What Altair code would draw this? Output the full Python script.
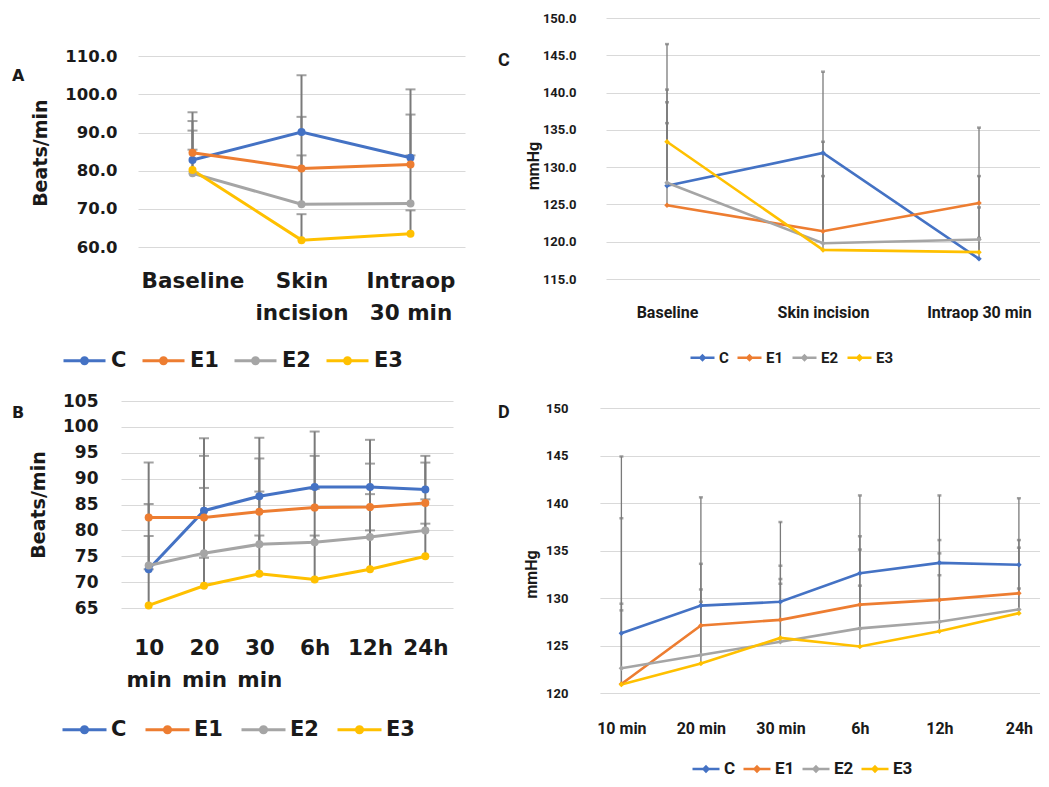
import altair as alt
import pandas as pd

SERIES = ["C", "E1", "E2", "E3"]
COLORS = ["#4472C4", "#ED7D31", "#A5A5A5", "#FFC000"]
TXT = "#1a1a1a"
GRID = "#D9D9D9"
ERR = "#7a7a7a"

# ---- Panel A : heart rate, intra-operative (Beats/min)
A_CATS = ["Baseline", "Skin incision", "Intraop 30 min"]
A_C = [82.8, 90.1, 83.4]
A_E1 = [84.7, 80.6, 81.6]
A_E2 = [79.3, 71.2, 71.4]
A_E3 = [80.2, 61.8, 63.5]
A_C_UP = [93.0, 105.0, 101.3]
A_E1_UP = [95.3, 94.1, 94.7]
A_E2_UP = [90.5, 84.0, 84.0]
A_E3_UP = [85.5, 68.6, 69.6]
A_TICKS = [60, 70, 80, 90, 100, 110]

# ---- Panel B : heart rate, post-operative (Beats/min)
B_CATS = ["10 min", "20 min", "30 min", "6h", "12h", "24h"]
B_C = [72.5, 83.8, 86.6, 88.4, 88.4, 87.9]
B_E1 = [82.5, 82.5, 83.6, 84.4, 84.5, 85.3]
B_E2 = [73.2, 75.6, 77.3, 77.7, 78.7, 80.0]
B_E3 = [65.5, 69.3, 71.6, 70.5, 72.5, 75.0]
B_C_UP = [85.1, 97.8, 97.9, 99.1, 97.5, 94.4]
B_E1_UP = [93.1, 94.4, 93.9, 94.4, 92.9, 93.1]
B_E2_UP = [78.9, 88.2, 87.5, 88.0, 87.0, 86.0]
B_E3_UP = [72.5, 74.7, 79.0, 79.0, 80.0, 81.3]
B_TICKS = [65, 70, 75, 80, 85, 90, 95, 100, 105]

# ---- Panel C : blood pressure, intra-operative (mmHg)
C_CATS = ["Baseline", "Skin incision", "Intraop 30 min"]
C_C = [127.5, 131.9, 117.7]
C_E1 = [124.9, 121.4, 125.2]
C_E2 = [127.9, 119.8, 120.3]
C_E3 = [133.4, 118.9, 118.6]
C_C_UP = [140.4, 142.8, 120.5]
C_E1_UP = [135.9, 128.8, 135.3]
C_E2_UP = [138.7, 133.4, 128.8]
C_E3_UP = [146.5, 131.9, 124.6]
C_TICKS = [115, 120, 125, 130, 135, 140, 145, 150]

# ---- Panel D : blood pressure, post-operative (mmHg)
D_CATS = ["10 min", "20 min", "30 min", "6h", "12h", "24h"]
D_C = [126.3, 129.2, 129.6, 132.6, 133.7, 133.5]
D_E1 = [120.95, 127.1, 127.7, 129.3, 129.8, 130.5]
D_E2 = [122.6, 124.0, 125.4, 126.8, 127.5, 128.8]
D_E3 = [120.9, 123.1, 125.8, 124.9, 126.5, 128.4]
D_C_UP = [144.9, 140.6, 138.0, 140.8, 140.8, 140.5]
D_E1_UP = [129.4, 133.6, 133.4, 136.5, 136.1, 136.1]
D_E2_UP = [138.4, 130.9, 132.0, 135.1, 134.7, 135.3]
D_E3_UP = [128.7, 129.6, 131.5, 131.3, 132.4, 131.0]
D_TICKS = [120, 125, 130, 135, 140, 145, 150]

BOLD_FONT = "DejaVu Sans"
NARROW_FONT = "Roboto"

LINE_DOT = ("M-1,0L1,0 M-0.14,0A0.14,0.14 0 1,0 0.14,0A0.14,0.14 0 1,0 -0.14,0 "
            "M-0.07,0A0.07,0.07 0 1,0 0.07,0A0.07,0.07 0 1,0 -0.07,0")
LINE_DIAMOND = "M-1,0L1,0 M0,-0.18L0.18,0L0,0.18L-0.18,0Z M0,-0.09L0.09,0L0,0.09L-0.09,0Z"


def frame(cats, vals, ups):
    rows = []
    for s, v, u in zip(SERIES, vals, ups):
        for i, (c, vi, ui) in enumerate(zip(cats, v, u)):
            rows.append({"x": c, "i": i, "series": s, "value": vi, "up": ui})
    return pd.DataFrame(rows)


def panel(df, cats, p):
    x = alt.X(
        "x:N", sort=cats, scale=p["xscale"],
        axis=alt.Axis(title=None, labelAngle=0, labelFont=p["font"], labelFontSize=p["f_xlab"],
                      labelFontWeight="bold", labelColor=TXT, labelPadding=p["xlab_pad"],
                      labelLineHeight=p["line_h"], labelExpr=p["xexpr"], labelOverlap=False,
                      labelLimit=0, grid=False, domain=False, ticks=False))
    y = alt.Y(
        "value:Q", scale=alt.Scale(domain=p["ydom"], nice=False, zero=False),
        axis=alt.Axis(values=p["yticks"], format=p["yfmt"], title=p["ytitle"],
                      titleFont=p["font"], titleFontSize=p["f_title"], titleFontWeight="bold",
                      titleColor=TXT, titleX=p["title_xy"][0], titleY=p["title_xy"][1],
                      titleAngle=-90, titleBaseline="middle", titleAlign="center",
                      labelFont=p["font"], labelFontSize=p["f_ylab"], labelFontWeight="bold",
                      labelColor=TXT, labelPadding=p["ylab_pad"], grid=True, gridColor=GRID,
                      gridWidth=p["grid_w"], domain=False, ticks=False))
    color_scale = alt.Scale(domain=SERIES, range=COLORS)
    base = alt.Chart(df)
    err = base.mark_rule(color=ERR, strokeWidth=p["err_w"]).encode(x=x, y=y, y2="up:Q")
    caps = base.transform_calculate(value="datum.up").mark_tick(
        color=ERR, size=p["cap_size"], thickness=p["cap_w"]).encode(x=x, y=y)
    line = base.mark_line(strokeWidth=p["line_w"]).encode(
        x=x, y=y, order=alt.Order("i:Q"),
        color=alt.Color("series:N", scale=color_scale, sort=SERIES, legend=alt.Legend(
            orient="none", legendX=p["leg_xy"][0], legendY=p["leg_xy"][1],
            direction="horizontal", title=None, symbolType=p["leg_sym"],
            symbolSize=p["leg_size"], symbolStrokeWidth=p["leg_sw"], symbolOpacity=1,
            labelFont=p["font"], labelFontSize=p["f_leg"], labelFontWeight="bold",
            labelColor=TXT, labelOffset=p["leg_off"], columnPadding=p["leg_pad"], padding=0)))
    pts = base.mark_point(filled=True, size=p["pt_size"], shape=p["pt_shape"], opacity=1).encode(
        x=x, y=y, color=alt.Color("series:N", scale=color_scale, legend=None))
    letter_df = pd.DataFrame({"t": [p["letter"]]})
    letter = alt.Chart(letter_df).mark_text(
        align="left", baseline="middle", font=p["font"], fontSize=p["f_letter"],
        fontWeight="bold", color=TXT).encode(
        text="t:N", x=alt.value(p["letter_xy"][0]), y=alt.value(p["letter_xy"][1]))
    layers = [err, caps, line, pts, letter]
    if p.get("reserve_x") is not None:
        # transparent copy of the panel letter, only reserves room on the left
        layers.append(alt.Chart(letter_df).mark_text(
            align="left", baseline="middle", font=p["font"], fontSize=p["f_letter"],
            opacity=0).encode(text="t:N", x=alt.value(p["reserve_x"]),
                              y=alt.value(p["letter_xy"][1])))
    return alt.layer(*layers).properties(width=p["w"], height=p["h"])


common_ab = dict(font=BOLD_FONT, f_ylab=16.5, f_xlab=21.5, f_title=19, f_leg=21, f_letter=16,
                 line_h=32, leg_sym=LINE_DOT, leg_sw=3, leg_off=4, line_w=3,
                 pt_shape="circle", pt_size=64, err_w=2, cap_size=10, cap_w=2, grid_w=1.2)
common_cd = dict(font=NARROW_FONT, f_letter=18, leg_sym=LINE_DIAMOND, leg_sw=2.5,
                 leg_off=3, line_w=2.6, pt_shape="diamond", pt_size=30, err_w=1.3,
                 cap_size=4, cap_w=2.5, grid_w=1, line_h=20, xexpr="datum.label")

pA = dict(common_ab, letter="A", w=327, h=229, ydom=[60, 120], yticks=A_TICKS, yfmt=".1f",
          ytitle="Beats/min", xscale=alt.Scale(type="point", padding=0.5),
          xexpr="datum.label == 'Skin incision' ? ['Skin', 'incision'] : "
                "datum.label == 'Intraop 30 min' ? ['Intraop', '30 min'] : datum.label",
          xlab_pad=23, ylab_pad=21, title_xy=[-98, 134.7], letter_xy=[-126, 58],
          leg_xy=[-76, 320], leg_size=1764, leg_pad=9)
pB = dict(common_ab, letter="B", w=332, h=207, ydom=[65, 105], yticks=B_TICKS, yfmt="d",
          ytitle="Beats/min", xscale=alt.Scale(type="point", padding=0.5),
          xexpr="indexof(datum.label, 'min') > 0 ? split(datum.label, ' ') : datum.label",
          xlab_pad=29, ylab_pad=23, title_xy=[-83, 103.5], letter_xy=[-109, 12],
          leg_xy=[-60, 305], leg_size=1936, leg_pad=12, f_ylab=17, leg_off=3)
pC = dict(common_cd, letter="C", w=451, h=261, ydom=[115, 150], yticks=C_TICKS, yfmt=".1f",
          ytitle="mmHg", xscale=alt.Scale(type="point", range=[17, 451], padding=0.391),
          f_ylab=13, f_xlab=16, f_title=16, f_leg=15, xlab_pad=25, ylab_pad=13,
          title_xy=[-56, 147.5], letter_xy=[-91, 43], leg_xy=[100, 326], leg_size=576,
          leg_pad=3)
pD = dict(common_cd, letter="D", w=458, h=292, ydom=[120, 150.74], yticks=D_TICKS, yfmt="d",
          ytitle="mmHg", xscale=alt.Scale(type="point", range=[17.9, 458.4], padding=0.2704),
          f_ylab=13, f_xlab=16, f_title=16, f_leg=17, xlab_pad=27, ylab_pad=14,
          title_xy=[-50.6, 173], letter_xy=[-84, 12], leg_xy=[109, 353], leg_size=729,
          leg_pad=2, reserve_x=-100.6)

chartA = panel(frame(A_CATS, [A_C, A_E1, A_E2, A_E3], [A_C_UP, A_E1_UP, A_E2_UP, A_E3_UP]), A_CATS, pA)
chartB = panel(frame(B_CATS, [B_C, B_E1, B_E2, B_E3], [B_C_UP, B_E1_UP, B_E2_UP, B_E3_UP]), B_CATS, pB)
chartC = panel(frame(C_CATS, [C_C, C_E1, C_E2, C_E3], [C_C_UP, C_E1_UP, C_E2_UP, C_E3_UP]), C_CATS, pC)
chartD = panel(frame(D_CATS, [D_C, D_E1, D_E2, D_E3], [D_C_UP, D_E1_UP, D_E2_UP, D_E3_UP]), D_CATS, pD)


def spacer():
    return alt.Chart(pd.DataFrame({"t": [""]})).mark_text().encode(
        text="t:N").properties(width=1, height=1)


chart = alt.concat(
    spacer(), chartA, chartC, spacer(), chartB, chartD, columns=3,
    spacing=alt.RowColnumber(row=21, column=28),
    align=alt.RowColLayoutAlign(row="each", column="none"),
).resolve_scale(
    color="independent", x="independent", y="independent"
).resolve_legend(color="independent").properties(
    padding={"left": -25, "top": 4, "right": 0, "bottom": 0}
).configure_view(stroke=None)

chart.save("out.html", embed_options={"renderer": "svg", "actions": False})
